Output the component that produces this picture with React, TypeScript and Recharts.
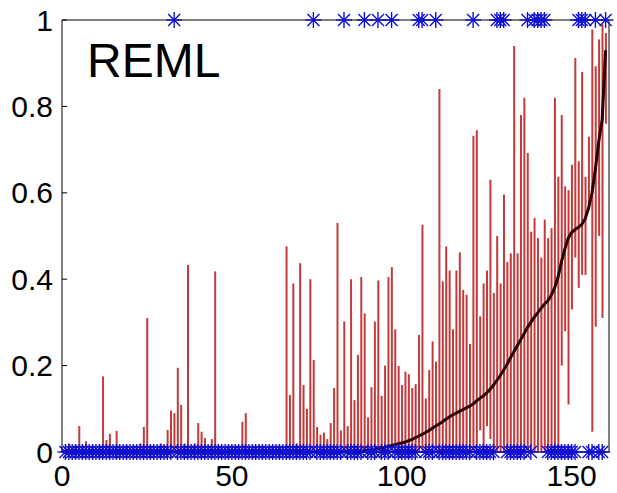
import React from "react"
import { Bar, ComposedChart, Line, Scatter, XAxis, YAxis } from "recharts"

// upper end of each red interval, cases 1..160 (sorted by estimate)
const upperBound = [
  0.01, 0.02, 0.01, 0.015, 0.06, 0.01, 0.025, 0.01, 0.012, 0.01,
  0.015, 0.175, 0.028, 0.042, 0.01, 0.049, 0.012, 0.01, 0.015, 0.01,
  0.012, 0.01, 0.02, 0.058, 0.31, 0.015, 0.01, 0.012, 0.02, 0.015,
  0.051, 0.096, 0.09, 0.195, 0.109, 0.02, 0.433, 0.015, 0.02, 0.067,
  0.047, 0.032, 0.015, 0.03, 0.418, 0.01, 0.01, 0.012, 0.01, 0.015,
  0.01, 0.012, 0.07, 0.09, 0.01, 0.012, 0.01, 0.015, 0.01, 0.012,
  0.01, 0.01, 0.015, 0.01, 0.012, 0.476, 0.132, 0.39, 0.02, 0.437,
  0.155, 0.1, 0.4, 0.213, 0.058, 0.04, 0.045, 0.03, 0.067, 0.148,
  0.53, 0.05, 0.302, 0.06, 0.4, 0.12, 0.225, 0.405, 0.321, 0.08,
  0.15, 0.302, 0.397, 0.13, 0.2, 0.405, 0.428, 0.284, 0.199, 0.155,
  0.186, 0.18, 0.148, 0.157, 0.271, 0.526, 0.124, 0.19, 0.256, 0.209,
  0.84, 0.395, 0.476, 0.42, 0.284, 0.42, 0.462, 0.375, 0.364, 0.25,
  0.732, 0.745, 0.314, 0.39, 0.42, 0.63, 0.368, 0.5, 0.39, 0.596,
  0.44, 0.46, 0.94, 0.46, 0.78, 0.82, 0.692, 0.51, 0.542, 0.495,
  0.45, 0.538, 0.495, 0.518, 0.82, 0.637, 0.78, 0.615, 0.606, 0.665,
  0.912, 0.673, 0.88, 0.637, 0.73, 0.978, 0.893, 0.955, 0.99, 0.97,
]

// lower end of each red interval
const lowerBound = [
  0, 0, 0, 0, 0, 0, 0, 0, 0, 0,
  0, 0, 0, 0, 0, 0, 0, 0, 0, 0,
  0, 0, 0, 0, 0, 0, 0, 0, 0, 0,
  0, 0, 0, 0, 0, 0, 0, 0, 0, 0,
  0, 0, 0, 0, 0, 0, 0, 0, 0, 0,
  0, 0, 0, 0, 0, 0, 0, 0, 0, 0,
  0, 0, 0, 0, 0, 0, 0, 0, 0, 0,
  0, 0, 0, 0, 0, 0, 0, 0, 0, 0,
  0, 0, 0, 0, 0, 0, 0, 0, 0, 0,
  0, 0, 0, 0, 0, 0, 0, 0, 0, 0,
  0, 0, 0, 0, 0, 0, 0, 0, 0, 0,
  0, 0, 0, 0, 0, 0, 0, 0, 0, 0,
  0, 0, 0.05, 0, 0.06, 0.03, 0, 0, 0, 0,
  0, 0, 0, 0, 0, 0, 0, 0, 0, 0,
  0, 0, 0, 0, 0, 0, 0.2, 0.28, 0.11, 0.33,
  0.45, 0.38, 0.41, 0.41, 0.56, 0.047, 0.29, 0.5, 0.31, 0.76,
]

// REML point estimate (black line)
const estimate = [
  0, 0, 0, 0, 0, 0, 0, 0, 0, 0,
  0, 0, 0, 0, 0, 0, 0, 0, 0, 0,
  0, 0, 0, 0, 0, 0, 0, 0, 0, 0,
  0, 0, 0, 0, 0, 0, 0, 0, 0, 0,
  0, 0, 0, 0, 0, 0, 0, 0, 0, 0,
  0, 0, 0, 0, 0, 0, 0, 0, 0, 0,
  0, 0, 0, 0, 0, 0, 0, 0, 0, 0,
  0, 0, 0, 0, 0, 0, 0, 0, 0, 0,
  0, 0, 0, 0, 0, 0, 0, 0, 0.003, 0.004,
  0.005, 0.006, 0.008, 0.009, 0.011, 0.013, 0.015, 0.017, 0.019, 0.021,
  0.023, 0.026, 0.029, 0.033, 0.037, 0.041, 0.045, 0.05, 0.055, 0.06,
  0.065, 0.07, 0.076, 0.081, 0.086, 0.09, 0.094, 0.098, 0.102, 0.106,
  0.111, 0.118, 0.124, 0.13, 0.137, 0.145, 0.155, 0.166, 0.177, 0.19,
  0.203, 0.218, 0.232, 0.246, 0.26, 0.274, 0.288, 0.3, 0.312, 0.322,
  0.333, 0.342, 0.35, 0.363, 0.38, 0.405, 0.44, 0.47, 0.495, 0.508,
  0.515, 0.52, 0.527, 0.54, 0.565, 0.6, 0.655, 0.72, 0.77, 0.93,
]

// cases whose observed outcome is 1 (all others are 0)
const positiveCases = [
  33, 74, 83, 89, 93, 97, 105, 106, 110, 121, 128, 129, 130,
  137, 139, 140, 141, 142, 152, 153, 154, 157, 160,
]

const xTicks = [0, 50, 100, 150]
const yTicks = [0, 0.2, 0.4, 0.6, 0.8, 1]

const data = estimate.map((est, i) => ({
  x: i + 1,
  range: [lowerBound[i], upperBound[i]],
  est,
  obs: positiveCases.includes(i + 1) ? 1 : 0,
}))

const font = "'Liberation Sans', Arial, sans-serif"
const blue = "#1010d0"

function Asterisk(props: any) {
  const { cx, cy } = props
  if (cx == null || cy == null) return <g />
  const r = 8
  const d = 6
  return (
    <g stroke={blue} strokeWidth={1.4}>
      <line x1={cx} y1={cy - r} x2={cx} y2={cy + r} />
      <line x1={cx - r} y1={cy} x2={cx + r} y2={cy} />
      <line x1={cx - d} y1={cy - d} x2={cx + d} y2={cy + d} />
      <line x1={cx - d} y1={cy + d} x2={cx + d} y2={cy - d} />
    </g>
  )
}

export default function App() {
  const tickStyle = { fill: "#000", fontSize: 30, fontFamily: font }
  return (
    <div style={{ position: "absolute", left: 0, top: 0, width: 617, height: 493, background: "#fff" }}>
      <ComposedChart width={617} height={493} data={data} margin={{ top: 19, right: 7, bottom: 0, left: 0 }}>
        <XAxis
          dataKey="x"
          type="number"
          domain={[0, 161]}
          ticks={xTicks}
          height={41}
          tickSize={-5}
          tickMargin={18}
          tick={tickStyle}
          stroke="#000"
          interval={0}
        />
        <XAxis
          xAxisId="top"
          orientation="top"
          type="number"
          domain={[0, 161]}
          ticks={xTicks}
          height={1}
          tickSize={-5}
          tick={false}
          stroke="#000"
        />
        <YAxis
          type="number"
          domain={[0, 1]}
          ticks={yTicks}
          width={62}
          tickSize={-5}
          tickMargin={14}
          tick={tickStyle}
          tickFormatter={(v) => `${v}`}
          stroke="#000"
          interval={0}
        />
        <YAxis
          yAxisId="right"
          orientation="right"
          type="number"
          domain={[0, 1]}
          ticks={yTicks}
          width={1}
          tickSize={-5}
          tick={false}
          stroke="#000"
        />
        <Line
          dataKey="est"
          type="linear"
          stroke="#2a0202"
          strokeWidth={3}
          dot={false}
          isAnimationActive={false}
        />
        <Bar dataKey="range" fill="#c43a3a" barSize={2} isAnimationActive={false} />
        <Scatter dataKey="obs" shape={Asterisk} fill={blue} isAnimationActive={false} />
      </ComposedChart>
      <div
        style={{
          position: "absolute",
          left: 87,
          top: 37,
          fontFamily: font,
          fontSize: 48,
          lineHeight: 1,
          color: "#000",
        }}
      >
        REML
      </div>
    </div>
  )
}
